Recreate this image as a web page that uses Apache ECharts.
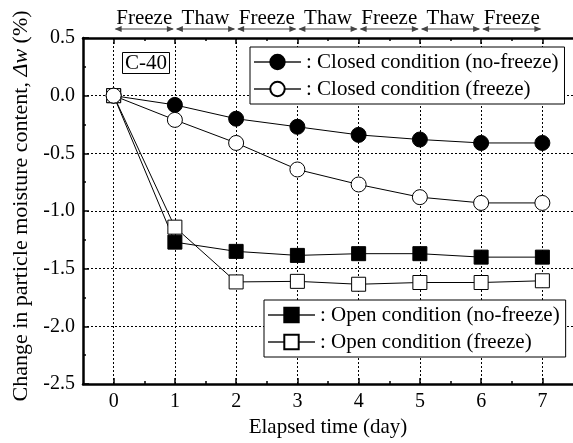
<!DOCTYPE html>
<html>
<head>
<meta charset="utf-8">
<script src="https://cdn.jsdelivr.net/npm/echarts@6/dist/echarts.min.js"></script>
<style>
html,body{margin:0;padding:0;background:#fff;}
#main{width:573px;height:443px;}
</style>
</head>
<body>
<div id="main"></div>
<script>
var days = [0, 1, 2, 3, 4, 5, 6, 7];
var closedNoFreeze = [0, -0.08, -0.2, -0.27, -0.34, -0.38, -0.41, -0.41];
var closedFreeze = [0, -0.21, -0.41, -0.64, -0.77, -0.88, -0.93, -0.93];
var openNoFreeze = [0, -1.27, -1.35, -1.385, -1.37, -1.37, -1.40, -1.40];
var openFreeze = [0, -1.14, -1.615, -1.61, -1.635, -1.62, -1.62, -1.605];
var phases = ['Freeze', 'Thaw', 'Freeze', 'Thaw', 'Freeze', 'Thaw', 'Freeze'];
var minorDays = [0.5, 1.5, 2.5, 3.5, 4.5, 5.5, 6.5];

var font = '"Liberation Serif", "Times New Roman", serif';
var chart = echarts.init(document.getElementById('main'));

function pairs(arr) {
    return days.map(function (d, i) { return [d, arr[i]]; });
}

var gridLine = { show: true, lineStyle: { color: '#000', type: [2, 2], width: 1 } };

function xAx(pos, ticks, len, showLine) {
    return {
        type: 'value', position: pos, min: -0.5, max: 7.5, interval: 0.5,
        axisLine: { show: showLine, onZero: false, lineStyle: { color: '#000', width: 2.5 } },
        axisTick: { show: true, inside: true, length: len, customValues: ticks, lineStyle: { color: '#000', width: 1.5 } },
        axisLabel: { show: false },
        splitLine: { show: false }
    };
}

var xMain = xAx('bottom', days, 6, true);
xMain.axisLabel = { show: true, customValues: days, margin: 8, fontSize: 20, fontFamily: font, color: '#000' };
xMain.splitLine = gridLine;
xMain.name = 'Elapsed time (day)';
xMain.nameLocation = 'middle';
xMain.nameGap = 28;
xMain.nameTextStyle = { fontSize: 21, fontFamily: font, color: '#000' };

var seriesStyle = function (name, data, symbol, filled) {
    return {
        name: name, type: 'line', data: pairs(data), symbol: symbol,
        symbolSize: symbol === 'circle' ? 15 : 14,
        lineStyle: { color: '#000', width: 1 },
        itemStyle: { color: filled ? '#000' : '#fff', borderColor: '#000', borderWidth: 1 },
        emphasis: { disabled: true },
        z: filled ? 3 : 4
    };
};

var legendBase = {
    orient: 'vertical', itemWidth: 47, itemHeight: 18, itemGap: 5,
    padding: [4, 6, 4, 3],
    borderColor: '#000', borderWidth: 1, backgroundColor: '#fff',
    lineStyle: { color: '#555', width: 2 },
    textStyle: { fontSize: 21, fontFamily: font, color: '#000', lineHeight: 22 },
    selectedMode: false
};

var option = {
    animation: false,
    backgroundColor: '#fff',
    title: {
        text: 'C-40', left: 122, top: 52, padding: [1, 3, 0, 3],
        borderColor: '#000', borderWidth: 1,
        textStyle: { fontSize: 21, fontWeight: 'normal', fontFamily: font, color: '#000' }
    },
    legend: [
        Object.assign({}, legendBase, {
            left: 250, top: 47,
            data: [': Closed condition (no-freeze)', ': Closed condition (freeze)']
        }),
        Object.assign({}, legendBase, {
            left: 264, top: 300,
            data: [': Open condition (no-freeze)', ': Open condition (freeze)']
        })
    ],
    grid: { left: 83, top: 38, width: 499, height: 346 },
    xAxis: [
        xMain,
        xAx('bottom', minorDays, 3, false),
        xAx('top', days, 6, true),
        xAx('top', minorDays, 3, false)
    ],
    yAxis: {
        type: 'value', min: -2.5, max: 0.5, interval: 0.5,
        axisLine: { show: true, onZero: false, lineStyle: { color: '#000', width: 2.5 } },
        axisTick: { show: true, inside: true, length: 6, lineStyle: { color: '#000', width: 1.5 } },
        minorTick: { show: true, splitNumber: 2, length: 3, lineStyle: { color: '#000', width: 1.5 } },
        axisLabel: {
            fontSize: 20, fontFamily: font, color: '#000', margin: 8,
            formatter: function (v) { return v.toFixed(1); }
        },
        splitLine: gridLine,
        name: 'Change in particle moisture content, {i|Δw} (%)',
        nameLocation: 'middle', nameGap: 45,
        nameTextStyle: {
            fontSize: 22, fontFamily: font, color: '#000', padding: [0, 0, 0, 10],
            rich: { i: { fontSize: 22, fontFamily: font, fontStyle: 'italic', color: '#000' } }
        }
    },
    series: [
        seriesStyle(': Open condition (no-freeze)', openNoFreeze, 'rect', true),
        seriesStyle(': Open condition (freeze)', openFreeze, 'rect', false),
        seriesStyle(': Closed condition (no-freeze)', closedNoFreeze, 'circle', true),
        seriesStyle(': Closed condition (freeze)', closedFreeze, 'circle', false),
        {
            type: 'custom', clip: false, silent: true,
            data: phases.map(function (p, i) { return [i, i + 1]; }),
            encode: { x: [0, 1] },
            renderItem: function (params, api) {
                var a = api.coord([api.value(0), 0.5]);
                var b = api.coord([api.value(1), 0.5]);
                var ay = a[1] - 9;
                var c = '#444';
                return {
                    type: 'group',
                    children: [
                        { type: 'line', shape: { x1: a[0] + 2, y1: ay, x2: b[0] - 2, y2: ay }, style: { stroke: c, lineWidth: 1.2 } },
                        { type: 'polygon', shape: { points: [[a[0] + 1, ay], [a[0] + 8, ay - 3], [a[0] + 8, ay + 3]] }, style: { fill: c } },
                        { type: 'polygon', shape: { points: [[b[0] - 1, ay], [b[0] - 8, ay - 3], [b[0] - 8, ay + 3]] }, style: { fill: c } },
                        {
                            type: 'text',
                            style: {
                                text: phases[params.dataIndex], x: (a[0] + b[0]) / 2, y: a[1] - 20,
                                align: 'center', verticalAlign: 'middle',
                                fontSize: 21, fontFamily: font, fill: '#000'
                            }
                        }
                    ]
                };
            }
        }
    ]
};

chart.setOption(option);
</script>
</body>
</html>
